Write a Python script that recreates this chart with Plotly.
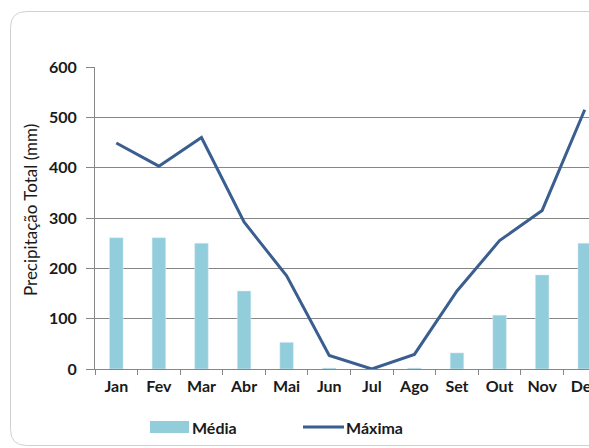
import plotly.graph_objects as go

meses = ["Jan", "Fev", "Mar", "Abr", "Mai", "Jun", "Jul", "Ago", "Set", "Out", "Nov", "Dez"]
media = [261, 261, 250, 155, 53, 2, 0, 2, 32, 107, 187, 250]
maxima = [449, 403, 460, 292, 185, 27, 0, 29, 155, 255, 315, 515]
y_ticks = [0, 100, 200, 300, 400, 500, 600]

BAR_COLOR = "#92CDDC"
LINE_COLOR = "#3A5E8F"
AXIS_COLOR = "#868686"
FONT = "Lato"
TEXT = "#1A1A1A"

W, H = 589, 448
ML, MT, MB, MR = 95, 67, 79, 0

fig = go.Figure()
fig.add_trace(go.Bar(
    x=meses, y=media, name="Média", marker_color=BAR_COLOR,
    width=0.32, showlegend=False,
))
fig.add_trace(go.Scatter(
    x=meses, y=maxima, mode="lines", name="Máxima",
    line=dict(color=LINE_COLOR, width=3), showlegend=False,
))


# helpers: pixel position -> paper coordinates
def px(x):
    return (x - ML) / (W - ML - MR)


def py(y):
    return (H - MB - y) / (H - MT - MB)


# rounded chart frame
r = 16
x0, y0, x1, y1 = 10.5, 11.5, 620, 445.5
path = (f"M {px(x0 + r)},{py(y0)} L {px(x1)},{py(y0)} L {px(x1)},{py(y1)} "
        f"L {px(x0 + r)},{py(y1)} Q {px(x0)},{py(y1)} {px(x0)},{py(y1 - r)} "
        f"L {px(x0)},{py(y0 + r)} Q {px(x0)},{py(y0)} {px(x0 + r)},{py(y0)} Z")
fig.add_shape(type="path", path=path, xref="paper", yref="paper",
              line=dict(color="#D0D0D0", width=1), layer="below")

# legend: bar swatch + line swatch with labels
leg_y = 427
fig.add_shape(type="rect", xref="paper", yref="paper",
              x0=px(150), x1=px(189), y0=py(leg_y + 6), y1=py(leg_y - 6),
              fillcolor=BAR_COLOR, line=dict(width=0))
fig.add_annotation(text="Média", xref="paper", yref="paper",
                   x=px(190), y=py(leg_y), xanchor="left", yanchor="middle",
                   showarrow=False,
                   font=dict(family=FONT, size=16, color=TEXT, weight="bold"))
fig.add_shape(type="line", xref="paper", yref="paper",
              x0=px(303), x1=px(344), y0=py(leg_y), y1=py(leg_y),
              line=dict(color=LINE_COLOR, width=3))
fig.add_annotation(text="Máxima", xref="paper", yref="paper",
                   x=px(344), y=py(leg_y), xanchor="left", yanchor="middle",
                   showarrow=False,
                   font=dict(family=FONT, size=16, color=TEXT, weight="bold"))

# y axis title
fig.add_annotation(text="Precipitação Total (mm)", xref="paper", yref="paper",
                   x=px(30), y=py(210), xanchor="center", yanchor="middle",
                   textangle=-90, showarrow=False,
                   font=dict(family=FONT, size=17, color=TEXT))

fig.update_layout(
    width=W, height=H,
    margin=dict(l=ML, r=MR, t=MT, b=MB, autoexpand=False),
    paper_bgcolor="white", plot_bgcolor="white",
    font=dict(family=FONT, size=15, color=TEXT),
    showlegend=False,
    xaxis=dict(
        type="category", range=[-0.5, 11.1], automargin=False,
        showline=True, linecolor=AXIS_COLOR, linewidth=1,
        ticks="outside", tickson="boundaries", ticklen=5, tickcolor=AXIS_COLOR,
        ticklabelstandoff=3,
        showgrid=False, tickfont=dict(family=FONT, size=16, color=TEXT, weight="bold"),
    ),
    yaxis=dict(
        range=[0, 600], tickvals=y_ticks, automargin=False,
        showline=True, linecolor=AXIS_COLOR, linewidth=1,
        ticks="outside", ticklen=8, tickcolor=AXIS_COLOR,
        ticklabelstandoff=6,
        showgrid=True, gridcolor=AXIS_COLOR, gridwidth=1, zeroline=False,
        tickfont=dict(family=FONT, size=16, color=TEXT, weight="bold"),
    ),
)

fig.write_html("out.html")
